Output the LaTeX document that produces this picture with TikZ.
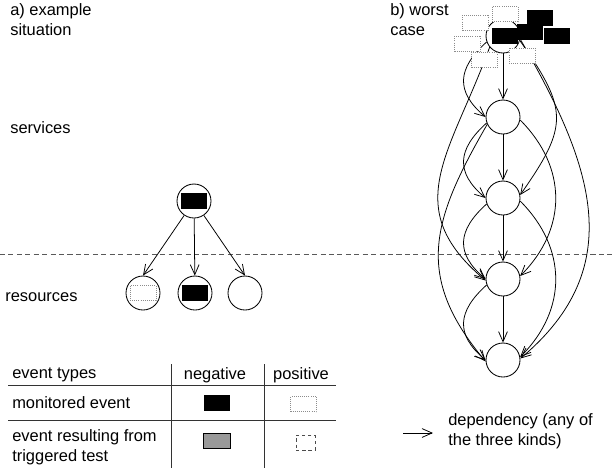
\documentclass[tikz,border=0pt]{standalone}
\usepackage{fontspec}
\setmainfont{Liberation Sans}
\usetikzlibrary{arrows.meta,positioning}
\tikzset {
svc/.style={shape=circle,draw,line width=0.6pt,fill=white,minimum size=8.5mm,inner sep=0pt},
neg event/.style={shape=rectangle,draw,fill=black,minimum width=6.2mm,minimum height=3.7mm,inner sep=0pt},
pos event/.style={shape=rectangle,draw=black!45,line width=0.5pt,dash pattern=on 0.5pt off 1pt,fill=white,minimum width=6.5mm,minimum height=3.8mm,inner sep=0pt},
neg test/.style={shape=rectangle,draw,line width=0.5pt,fill=black!40,minimum width=6.9mm,minimum height=3.7mm,inner sep=0pt},
pos test/.style={shape=rectangle,draw=black!70,line width=0.5pt,dash pattern=on 2.4pt off 2pt,minimum width=4.7mm,minimum height=3.7mm,inner sep=0pt},
txt/.style={font=\fontsize{11.7}{14.2}\selectfont,inner sep=0pt,align=left,anchor=west},
dep/.style={->,line width=0.55pt},
rule/.style={line width=0.5pt,black!80}
}

\begin{document}
\begin{tikzpicture}
[x=0.25mm,y=0.25mm,>={Straight Barb[length=2.5mm,width=2.2mm]},node distance=2.025cm]
\useasboundingbox (0,0) rectangle (616,-468);

% headings and layer names
\node[txt] (title a) at (10,-20) {a) example\\situation};
\node[txt] (title b) at (390,-20) {b) worst\\case};
\node[txt] (layer svc) at (10,-128) {services};
\node[txt] (layer res) at (5,-297) {resources};
\draw[black!65,line width=0.6pt,dash pattern=on 3.6pt off 2.4pt] (0,-254) -- (613,-254);

% a) one service, three resources
\node[svc] (sit svc) at (194,-201) {};
\node[svc] (sit res a) at (143,-293) {};
\node[svc] (sit res b) at (195,-293) {};
\node[svc] (sit res c) at (245,-293) {};
\node[neg event] (sit ev svc) at (sit svc) {};
\node[pos event] (sit ev a) at (sit res a) {};
\node[neg event] (sit ev b) at (sit res b) {};
\draw[dep] (sit svc) -- (sit res a.north);
\draw[dep] (sit svc) -- (sit res b);
\draw[dep] (sit svc) -- (sit res c.north);

% b) chain where every level depends on all levels below
\node[svc] (wc 0) at (503,-36) {};
\node[svc] (wc 1) [below of=wc 0] {};
\node[svc] (wc 2) [below of=wc 1] {};
\node[svc] (wc 3) [below of=wc 2] {};
\node[svc] (wc 4) [below of=wc 3] {};

\draw[dep] (wc 0) -- (wc 1);
\draw[dep] (wc 1) -- (wc 2);
\draw[dep] (wc 2) -- (wc 3);
\draw[dep] (wc 3) -- (wc 4);
\draw[dep] (wc 0.200) to [out=222,in=140,looseness=1.35] (wc 1.180);
\draw[dep] (wc 1.200) to [out=222,in=140,looseness=1.35] (wc 2.180);
\draw[dep] (wc 2.200) to [out=222,in=140,looseness=1.35] (wc 3.180);
\draw[dep] (wc 3.200) to [out=222,in=140,looseness=1.35] (wc 4.180);
\draw[dep] (wc 0.220) to [out=250,in=140,looseness=1.25] (wc 3.185);
\draw[dep] (wc 1.205) to [out=240,in=130,looseness=1.2] (wc 4.185);
\draw[dep] (wc 0.-15) to [out=-55,in=55,looseness=1.4] (wc 2.10);
\draw[dep] (wc 1.-10) to [out=-45,in=45,looseness=1.1] (wc 3.10);
\draw[dep] (wc 2.-10) to [out=-45,in=45,looseness=1.1] (wc 4.10);
\draw[dep] (wc 0.-10) to [out=-60,in=40,looseness=1.15] (wc 4.5);

% events piled on the top service
\node[pos event] (wc pos a) at (475.5,-22.5) {};
\node[pos event] (wc pos b) at (505,-14) {};
\node[pos event] (wc pos c) at (467.5,-43.5) {};
\node[pos event] (wc pos d) at (484.5,-59.5) {};
\node[pos event] (wc pos e) at (522,-55.5) {};
\node[neg event] (wc neg a) at (539.5,-17.5) {};
\node[neg event] (wc neg b) at (504.5,-35.5) {};
\node[neg event] (wc neg c) at (529.5,-32) {};
\node[neg event] (wc neg d) at (556.5,-36) {};

% legend of event types
\node[txt] (head types) at (12,-375) {event types};
\node[txt,anchor=center] (head neg) at (215,-375) {negative};
\node[txt,anchor=center] (head pos) at (301,-375) {positive};
\node[txt] (row mon) at (12,-403) {monitored event};
\node[txt] (row test) at (12,-447) {event resulting from\\triggered test};
\node[neg event] (key neg mon) at (216.5,-402.5) {};
\node[pos event] (key pos mon) at (303.5,-404) {};
\node[neg test] (key neg test) at (217,-440.5) {};
\node[pos test] (key pos test) at (305.5,-442.5) {};
\draw[rule] (8,-385) -- (336,-385);
\draw[rule] (8,-420) -- (336,-420);
\draw[rule] (171,-364) -- (171,-468);
\draw[rule] (264,-364) -- (264,-468);

% legend of the arrow
\coordinate (key dep from) at (403,-433);
\coordinate (key dep to) at (433,-433);
\draw[dep] (key dep from) -- (key dep to);
\node[txt] (key dep) at (448,-431) {dependency (any of\\the three kinds)};
\end{tikzpicture}
\end{document}
